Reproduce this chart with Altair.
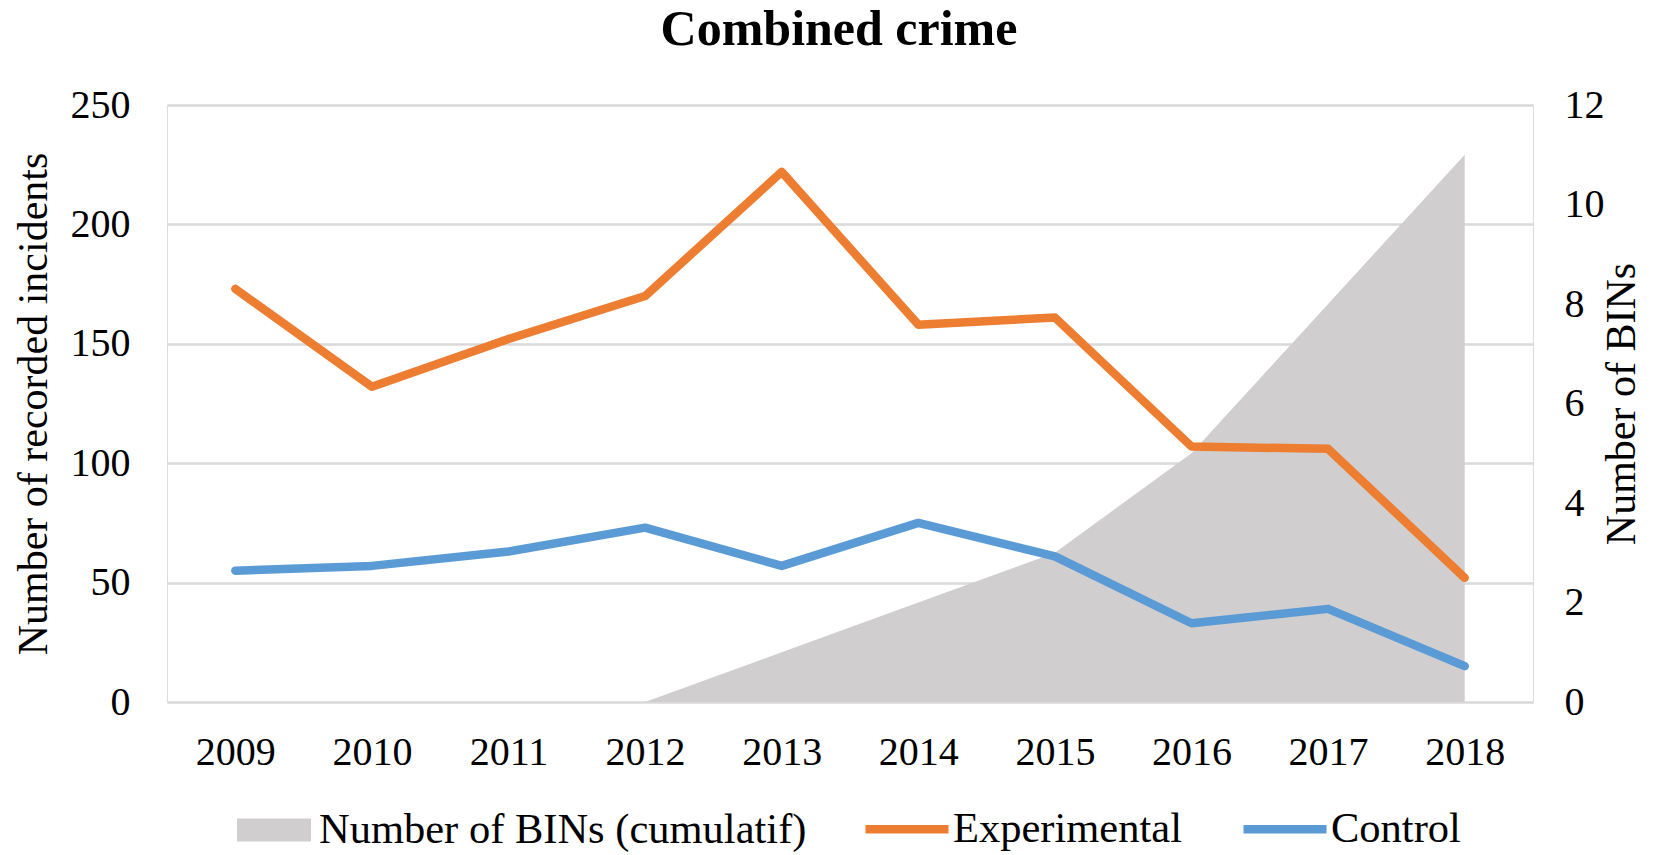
import altair as alt
import pandas as pd

years = ["2009", "2010", "2011", "2012", "2013", "2014", "2015", "2016", "2017", "2018"]
experimental = [173, 132, 152, 170, 222, 158, 161, 107, 106, 52]
control = [55, 57, 63, 73, 57, 75, 61, 33, 39, 15]
bins_cumul = [None, None, None, 0, 1, 2, 3, 5, 8, 11]

left_ticks = [0, 50, 100, 150, 200, 250]
right_ticks = [0, 2, 4, 6, 8, 10, 12]

area_label = "Number of BINs (cumulatif)"
series_names = ["Experimental", "Control"]

FONT = "Liberation Serif"

area_df = pd.DataFrame({"year": years, "bins": bins_cumul, "label": area_label}).dropna()
line_df = pd.concat([
    pd.DataFrame({"year": years, "value": experimental, "series": "Experimental", "order": 0}),
    pd.DataFrame({"year": years, "value": control, "series": "Control", "order": 1}),
])

W, H = 1366, 597

x_enc = alt.X(
    "year:N",
    sort=years,
    scale=alt.Scale(type="point", padding=0.5),
    axis=alt.Axis(title=None, domain=False, ticks=False, tickSize=0, labelAngle=0,
                  labelPadding=50, labelBaseline="middle", labelFontSize=40,
                  labelFont=FONT, labelColor="black", grid=False),
)

area = alt.Chart(area_df).mark_area(opacity=1, line=False).encode(
    x=x_enc,
    y=alt.Y("bins:Q", scale=alt.Scale(domain=[0, 12], nice=False),
            axis=alt.Axis(orient="right", values=right_ticks, grid=False, domain=False,
                          ticks=False, tickSize=0, labelPadding=31, labelFontSize=40,
                          labelFont=FONT, labelColor="black",
                          title="Number of BINs", titleFont=FONT, titleFontSize=42,
                          titleFontWeight="normal", titleColor="black", titleAngle=270,
                          titleX=88, titleY=H / 2, titleAlign="center",
                          titleBaseline="middle")),
    fill=alt.Fill("label:N", scale=alt.Scale(domain=[area_label], range=["#D0CECE"]),
                  legend=alt.Legend(title=None, orient="none", legendX=70, legendY=688,
                                    direction="horizontal", padding=0,
                                    symbolType="M-1,-0.31L1,-0.31L1,0.31L-1,0.31Z",
                                    symbolSize=5476, symbolStrokeWidth=0, symbolOpacity=1,
                                    labelFont=FONT, labelFontSize=42.5, labelColor="black",
                                    labelOffset=8, labelLimit=0)),
)

lines = alt.Chart(line_df).mark_line(strokeWidth=8.5, strokeCap="round", strokeJoin="round").encode(
    x=x_enc,
    y=alt.Y("value:Q", scale=alt.Scale(domain=[0, 250], nice=False),
            axis=alt.Axis(orient="left", values=left_ticks, grid=True, gridColor="#D9D9D9",
                          gridWidth=2.5, domain=False, ticks=False, tickSize=0,
                          labelPadding=37, labelFontSize=40, labelFont=FONT,
                          labelColor="black",
                          title="Number of recorded incidents", titleFont=FONT,
                          titleFontSize=42, titleFontWeight="normal", titleColor="black",
                          titleAngle=270, titleX=-134, titleY=H / 2, titleAlign="center",
                          titleBaseline="middle")),
    stroke=alt.Stroke("series:N", scale=alt.Scale(domain=series_names, range=["#ED7D31", "#5B9BD5"]),
                      legend=alt.Legend(title=None, orient="none", legendX=694, legendY=678,
                                        direction="horizontal", padding=0,
                                        symbolType="stroke", symbolSize=6889,
                                        symbolStrokeWidth=8.5, labelFont=FONT,
                                        labelFontSize=42.5, labelColor="black",
                                        labelOffset=0, columnPadding=44, labelLimit=0)),
    order=alt.Order("order:Q"),
)

chart = alt.layer(area, lines).resolve_scale(y="independent").properties(
    width=W,
    height=H,
    title=alt.TitleParams("Combined crime", font=FONT, fontSize=50, fontWeight="bold",
                          color="black", anchor="middle", frame="group", dx=-11,
                          baseline="top", offset=30),
    padding={"left": 167, "top": 105, "right": 139, "bottom": 153},
    autosize=alt.AutoSizeParams(type="none"),
).configure_view(stroke=None).configure(background="white")

chart.save("out.html", embed_options={"renderer": "svg", "actions": False})
